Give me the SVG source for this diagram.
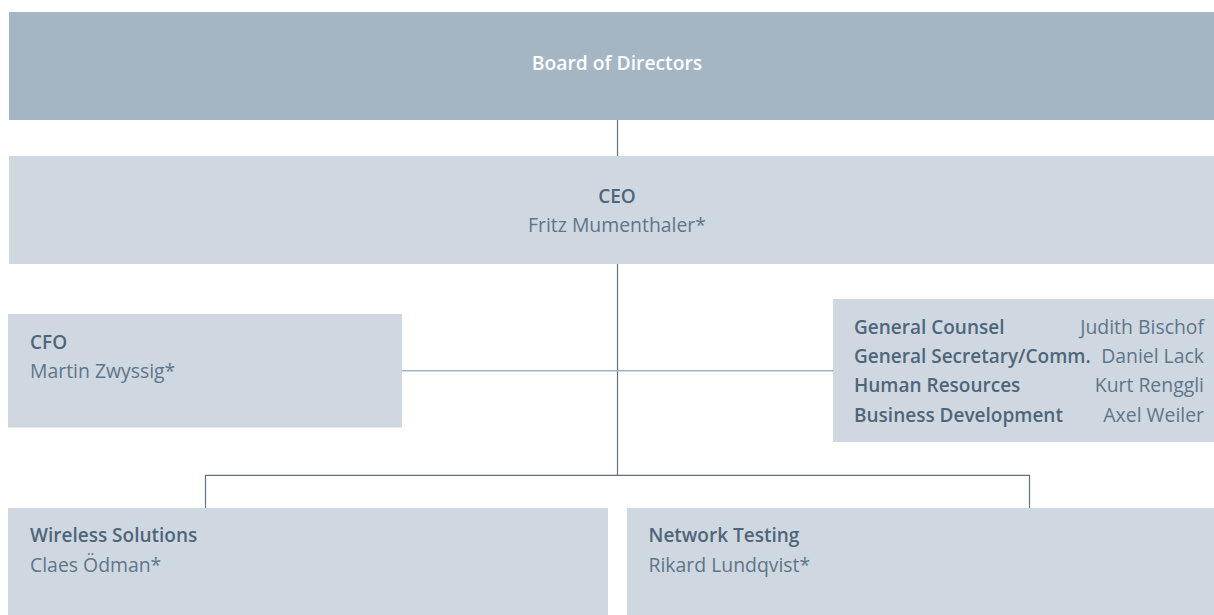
<svg xmlns="http://www.w3.org/2000/svg" width="1214" height="615" viewBox="0 0 1214 615">
<style>
  .board { fill: #a4b5c3; }
  .box { fill: #cfd8e1; }
  text { font-family: "Open Sans", "Noto Sans", "DejaVu Sans", sans-serif; }
  .t { font-weight: 600; fill: #4f657a; font-size: 19px; }
  .n { font-weight: 400; fill: #5f7589; font-size: 19.4px; }
  .w { font-weight: 600; fill: #ffffff; font-size: 19.3px; }
  .dark { stroke: #5f7285; stroke-width: 1.2; fill: none; }
  .light { stroke: #a3b3c1; stroke-width: 1.6; fill: none; }
</style>
<rect width="1214" height="615" fill="#ffffff"/>
<g id="connectors">
  <line class="dark" x1="617.5" y1="120" x2="617.5" y2="156"/>
  <line class="dark" x1="617.5" y1="264" x2="617.5" y2="475"/>
  <line class="light" x1="402" y1="370.7" x2="833" y2="370.7"/>
  <polyline class="dark" points="205.5,508 205.5,475.3 1029.5,475.3 1029.5,508"/>
</g>
<g id="board">
  <rect class="board" x="9" y="12" width="1205" height="108"/>
  <text class="w" x="617" y="69.5" text-anchor="middle">Board of Directors</text>
</g>
<g id="ceo">
  <rect class="box" x="9" y="156" width="1205" height="108"/>
  <text class="t" x="617" y="202.5" text-anchor="middle">CEO</text>
  <text class="n" x="617" y="231.5" text-anchor="middle">Fritz Mumenthaler*</text>
</g>
<g id="cfo">
  <rect class="box" x="8" y="314" width="394" height="113.5"/>
  <text class="t" x="30" y="349">CFO</text>
  <text class="n" x="30" y="378">Martin Zwyssig*</text>
</g>
<g id="staff">
  <rect class="box" x="833" y="299" width="381" height="143"/>
  <text class="t" x="854" y="334">General Counsel</text>
  <text class="n" x="1204" y="334" text-anchor="end">Judith Bischof</text>
  <text class="t" x="854" y="363">General Secretary/Comm.</text>
  <text class="n" x="1204" y="363" text-anchor="end">Daniel Lack</text>
  <text class="t" x="854" y="392">Human Resources</text>
  <text class="n" x="1204" y="392" text-anchor="end">Kurt Renggli</text>
  <text class="t" x="854" y="421.5">Business Development</text>
  <text class="n" x="1204" y="421.5" text-anchor="end">Axel Weiler</text>
</g>
<g id="wireless">
  <rect class="box" x="8" y="508" width="600" height="107"/>
  <text class="t" x="30" y="542">Wireless Solutions</text>
  <text class="n" x="30" y="571.5">Claes Ödman*</text>
</g>
<g id="network">
  <rect class="box" x="627" y="508" width="587" height="107"/>
  <text class="t" x="648.5" y="542">Network Testing</text>
  <text class="n" x="648.5" y="571.5">Rikard Lundqvist*</text>
</g>
</svg>
